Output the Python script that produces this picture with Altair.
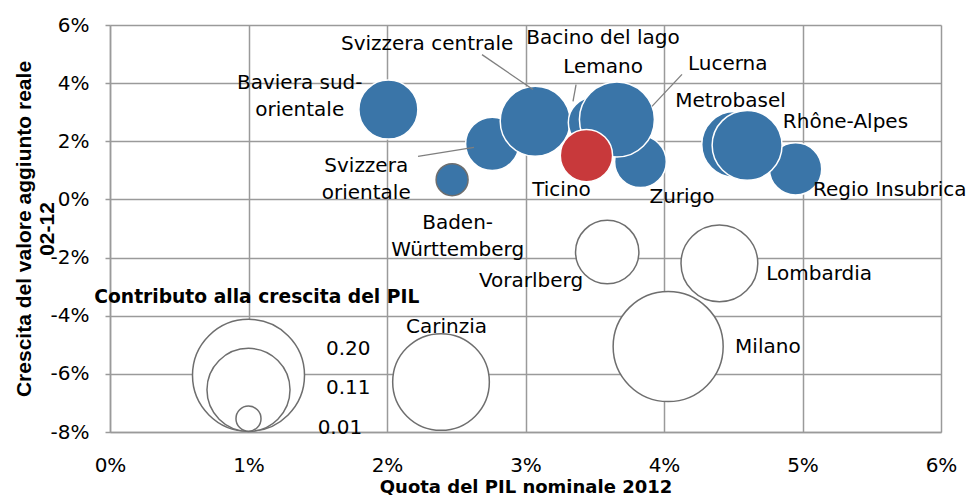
import altair as alt
import pandas as pd

# ---- bubble data (x: share of nominal GDP 2012 in %, y: real GVA growth 02-12 in %, size: contribution) ----
regions = ["Carinzia", "Milano", "Lombardia", "Vorarlberg",
           "Baviera sud-orientale", "Baden-Württemberg", "Svizzera orientale",
           "Svizzera centrale", "Bacino del lago", "Lemano", "Zurigo", "Lucerna",
           "Metrobasel", "Regio Insubrica", "Rhône-Alpes", "Ticino"]
share = [2.39, 4.03, 4.40, 3.59, 2.01, 2.47, 2.76, 3.07, 3.62, 3.49, 3.83, 3.66, 4.51, 4.95, 4.60, 3.44]
growth = [-6.28, -5.06, -2.20, -1.81, 3.09, 0.68, 1.91, 2.69, 2.85, 2.65, 1.30, 2.75, 1.89, 1.05, 1.86, 1.51]
contrib = [0.149, 0.193, 0.094, 0.064, 0.0555, 0.0163, 0.0453, 0.078, 0.05, 0.040, 0.0426, 0.0897, 0.069, 0.0436, 0.078, 0.0436]
kind = ["neg", "neg", "neg", "neg", "pos", "posg", "pos", "pos", "pos", "pos", "pos", "pos", "pos", "pos", "pos", "ticino"]

# ---- size legend bubbles ----
legend_values = [0.20, 0.11, 0.01]
legend_x = [1.0, 1.0, 1.0]
legend_y = [-6.05, -6.55, -7.54]
legend_labels = ["0.20", "0.11", "0.01"]
legend_label_x = [1.72, 1.72, 1.66]
legend_label_y = [-5.15, -6.49, -7.87]

# ---- data labels ----
label_text = ["Baviera sud-\norientale", "Svizzera centrale", "Bacino del lago", "Lemano", "Lucerna",
              "Metrobasel", "Rhône-Alpes", "Svizzera\norientale", "Baden-\nWürttemberg", "Ticino",
              "Zurigo", "Regio Insubrica", "Vorarlberg", "Lombardia", "Milano", "Carinzia"]
label_x = [1.37, 2.29, 3.56, 3.56, 4.46, 4.48, 5.31, 1.85, 2.51, 3.26, 4.13, 5.63, 3.04, 5.12, 4.75, 2.43]
label_y = [3.99, 5.33, 5.57, 4.57, 4.67, 3.37, 2.68, 1.15, -0.81, 0.34, 0.10, 0.34, -2.82, -2.58, -5.09, -4.40]

# ---- leader lines ----
lead_x1 = [2.686, 3.365, 4.130, 2.224]
lead_y1 = [4.98, 3.95, 4.30, 1.48]
lead_x2 = [3.054, 3.343, 3.913, 2.628]
lead_y2 = [3.78, 3.37, 3.20, 1.79]

legend_title = "Contributo alla crescita del PIL"
legend_title_x = [1.06]
legend_title_y = [-3.37]

bubbles = pd.DataFrame({
    "name": ["legend"] * 3 + regions,
    "x": legend_x + share,
    "y": legend_y + growth,
    "c": legend_values + contrib,
    "kind": ["legend"] * 3 + kind,
})
labels = pd.DataFrame({"t": label_text, "x": label_x, "y": label_y})
leg_labels = pd.DataFrame({"t": legend_labels, "x": legend_label_x, "y": legend_label_y})
leaders = pd.DataFrame({"x": lead_x1, "y": lead_y1, "x2": lead_x2, "y2": lead_y2})
leg_title = pd.DataFrame({"t": [legend_title], "x": legend_title_x, "y": legend_title_y})

GRID = "#9a9a9a"
FONT = "DejaVu Sans"

xscale = alt.Scale(domain=[0, 6], nice=False, zero=False)
yscale = alt.Scale(domain=[-8, 6], nice=False, zero=False)

xaxis = alt.Axis(values=[0, 1, 2, 3, 4, 5, 6], labelExpr="datum.value + '%'", grid=True,
                 gridColor=GRID, gridWidth=1.5, domainColor=GRID, domainWidth=1.5,
                 ticks=False, tickSize=0, labelFont=FONT, labelFontSize=20, labelColor="#000000",
                 labelPadding=23, labelFlush=False, labelOverlap=False,
                 title="Quota del PIL nominale 2012", titleFont=FONT,
                 titleFontWeight="bold", titleFontSize=18, titleColor="#000000",
                 titleBaseline="alphabetic", titleY=60, titleX=415.5, titleAlign="center")
yaxis = alt.Axis(values=[-8, -6, -4, -2, 0, 2, 4, 6], labelExpr="datum.value + '%'", grid=True,
                 gridColor=GRID, gridWidth=1.5, domainColor=GRID, domainWidth=1.5,
                 ticks=True, tickSize=5, tickColor=GRID, tickWidth=1.5,
                 labelFont=FONT, labelFontSize=20, labelColor="#000000", labelPadding=16,
                 labelFlush=False, labelOverlap=False,
                 title=["Crescita del valore aggiunto reale", "02-12"], titleFont="Liberation Sans",
                 titleFontWeight="bold", titleFontSize=21, titleColor="#000000",
                 titleAngle=270, titleAlign="center", titleBaseline="alphabetic",
                 titleLineHeight=23, titleX=-80, titleY=203.5)

base = alt.Chart(bubbles).mark_circle(opacity=1, strokeWidth=1.5).encode(
    x=alt.X("x:Q", scale=xscale, axis=xaxis),
    y=alt.Y("y:Q", scale=yscale, axis=yaxis),
    size=alt.Size("c:Q", scale=alt.Scale(type="linear", domain=[0, 0.2], range=[0, 12544], zero=True), legend=None),
    color=alt.Color("kind:N", scale=alt.Scale(domain=["pos", "posg", "ticino", "neg", "legend"],
                                              range=["#3a75a8", "#3a75a8", "#c8393b", "#ffffff", "#ffffff"]), legend=None),
    stroke=alt.Stroke("kind:N", scale=alt.Scale(domain=["pos", "posg", "ticino", "neg", "legend"],
                                                range=["#ffffff", "#6e6e6e", "#ffffff", "#6e6e6e", "#6e6e6e"]), legend=None),
)

leader_layer = alt.Chart(leaders).mark_rule(color="#7f7f7f", strokeWidth=1.3).encode(
    x="x:Q", y="y:Q", x2="x2:Q", y2="y2:Q")

label_layer = alt.Chart(labels).mark_text(font=FONT, fontSize=20, color="#000000", align="center",
                                          baseline="middle", lineBreak="\n", lineHeight=27).encode(
    x="x:Q", y="y:Q", text="t:N")

leg_label_layer = alt.Chart(leg_labels).mark_text(font=FONT, fontSize=20, color="#000000", align="center",
                                                  baseline="middle").encode(x="x:Q", y="y:Q", text="t:N")

leg_title_layer = alt.Chart(leg_title).mark_text(font=FONT, fontSize=18.7, fontWeight="bold", color="#000000",
                                                 align="center", baseline="middle").encode(
    x="x:Q", y="y:Q", text="t:N")

chart = alt.layer(base, leader_layer, label_layer, leg_label_layer, leg_title_layer).properties(
    width=831, height=407,
    autosize=alt.AutoSizeParams(type="none"),
    padding={"left": 102, "top": 17, "right": 29, "bottom": 63},
).configure_view(strokeWidth=0)

chart.save("out.html", embed_options={"renderer": "svg", "actions": False})
